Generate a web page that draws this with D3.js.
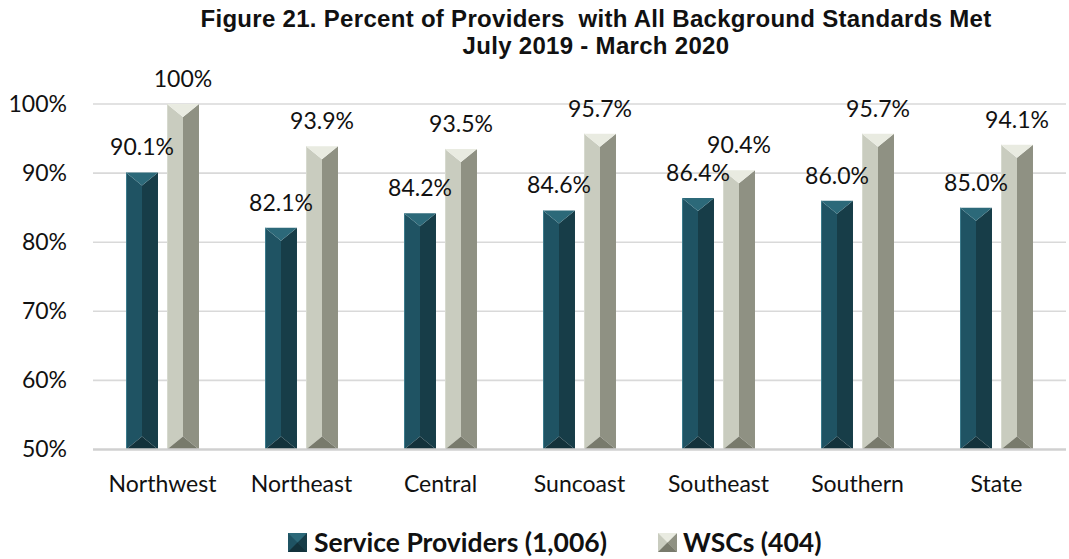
<!DOCTYPE html>
<html>
<head>
<meta charset="utf-8">
<script src="https://cdn.jsdelivr.net/npm/d3@7"></script>
<style>
  html, body { margin: 0; padding: 0; background: #fff; }
  svg { display: block; }
</style>
</head>
<body>
<svg id="chart" width="1069" height="559"></svg>
<script>
// Regions and percentages of providers meeting all background standards
const regions = ["Northwest", "Northeast", "Central", "Suncoast", "Southeast", "Southern", "State"];
const serviceProviders = [90.1, 82.1, 84.2, 84.6, 86.4, 86.0, 85.0];
const wscs = [100, 93.9, 93.5, 95.7, 90.4, 95.7, 94.1];
const seriesNames = ["Service Providers (1,006)", "WSCs (404)"];
const yTicks = [50, 60, 70, 80, 90, 100];
const titleLines = ["Figure 21. Percent of Providers  with All Background Standards Met",
                    "July 2019 - March 2020"];

// Bevelled face colours: left, right, top, bottom
const palettes = [
  { left: "#1f5363", right: "#173d48", top: "#2c6979", bottom: "#13323b", edge: "#4f93a5" },
  { left: "#c9ccbf", right: "#8f9183", top: "#e9ebe1", bottom: "#787a6c", edge: "#e0e2d8" }
];

const svg = d3.select("#chart");
const margin = { left: 93, right: 1066, top: 104, bottom: 449.5 };
const labelFont = "Lato, 'Open Sans', sans-serif";
const pts = arr => arr.map(p => p.join(",")).join(" ");

const y = d3.scaleLinear().domain([50, 100]).range([margin.bottom, margin.top]);
const x0 = d3.scaleBand().domain(regions).range([margin.left, margin.right])
  .paddingInner(0.475).paddingOuter(0.2375);
const x1 = d3.scaleBand().domain([0, 1]).range([0, x0.bandwidth()]).paddingInner(0.22);

// Title
svg.append("g").selectAll("text").data(titleLines).join("text")
  .attr("x", 596).attr("y", (d, i) => 27 + i * 27)
  .attr("text-anchor", "middle")
  .style("white-space", "pre")
  .style("font-family", "'Liberation Sans', Arial, sans-serif")
  .style("font-weight", "bold")
  .style("font-size", "24px")
  .style("letter-spacing", "0.3px")
  .style("fill", "#111")
  .text(d => d);

// Gridlines
svg.append("g").selectAll("line").data(yTicks.filter(t => t > 50)).join("line")
  .attr("x1", margin.left).attr("x2", margin.right)
  .attr("y1", d => y(d)).attr("y2", d => y(d))
  .attr("stroke", "#d9d9d9").attr("stroke-width", 1.6);

// Y axis labels
const yAxis = d3.axisLeft(y).tickValues(yTicks).tickFormat(d => d + "%").tickSize(0).tickPadding(26);
const yg = svg.append("g").attr("transform", `translate(${margin.left},0)`).call(yAxis);
yg.select(".domain").remove();
yg.selectAll("text")
  .style("font-family", labelFont).style("font-size", "23px").style("fill", "#111");

// Bars with bevelled faces
const series = [serviceProviders, wscs];
const bars = svg.append("g");
regions.forEach((r, i) => {
  series.forEach((vals, s) => {
    const v = vals[i];
    const bx = x0(r) + x1(s);
    const w = x1.bandwidth();
    const top = y(v);
    const bot = y(50);
    const mid = bx + w / 2;
    const bev = Math.min(13, (bot - top) / 2);
    const pal = palettes[s];
    const g = bars.append("g");
    g.append("polygon").attr("points", pts([[bx, top], [mid, top + bev], [mid, bot - bev], [bx, bot]]))
      .attr("fill", pal.left);
    g.append("polygon").attr("points", pts([[bx + w, top], [mid, top + bev], [mid, bot - bev], [bx + w, bot]]))
      .attr("fill", pal.right);
    g.append("polygon").attr("points", pts([[bx, top], [bx + w, top], [mid, top + bev]]))
      .attr("fill", pal.top);
    g.append("polygon").attr("points", pts([[bx, bot], [bx + w, bot], [mid, bot - bev]]))
      .attr("fill", pal.bottom);
    g.append("line").attr("x1", bx + 0.5).attr("x2", bx + 0.5)
      .attr("y1", top).attr("y2", bot)
      .attr("stroke", pal.edge).attr("stroke-width", 1).attr("opacity", 0.6);
    // value label
    svg.append("text")
      .attr("x", mid).attr("y", top - 17)
      .attr("text-anchor", "middle")
      .style("font-family", labelFont).style("font-size", "23px").style("fill", "#111")
      .text(v === 100 ? "100%" : v.toFixed(1) + "%");
  });
});

// X axis baseline and category labels
svg.append("line")
  .attr("x1", margin.left).attr("x2", margin.right)
  .attr("y1", y(50)).attr("y2", y(50))
  .attr("stroke", "#d0d0d0").attr("stroke-width", 2.5);
const xAxis = d3.axisBottom(x0).tickSize(0).tickPadding(26);
const xg = svg.append("g").attr("transform", `translate(0,${y(50)})`).call(xAxis);
xg.select(".domain").remove();
xg.selectAll("text")
  .style("font-family", labelFont).style("font-size", "23px").style("fill", "#111");

// Legend
const legendItems = [
  { name: seriesNames[0], sx: 288, tx: 314 },
  { name: seriesNames[1], sx: 658, tx: 683 }
];
const lg = svg.append("g");
legendItems.forEach((it, s) => {
  const pal = palettes[s];
  const sy = 533, sz = 19, m = it.sx + sz / 2;
  lg.append("polygon").attr("points", pts([[it.sx, sy], [it.sx + sz, sy], [it.sx + sz, sy + sz], [it.sx, sy + sz]])).attr("fill", pal.left);
  lg.append("polygon").attr("points", pts([[it.sx + sz, sy], [m, sy + sz / 2], [it.sx + sz, sy + sz]])).attr("fill", pal.right);
  lg.append("polygon").attr("points", pts([[it.sx, sy], [it.sx + sz, sy], [m, sy + sz / 2]])).attr("fill", pal.top);
  lg.append("polygon").attr("points", pts([[it.sx, sy + sz], [it.sx + sz, sy + sz], [m, sy + sz / 2]])).attr("fill", pal.bottom);
  lg.append("text").attr("x", it.tx).attr("y", 552)
    .style("font-family", labelFont).style("font-weight", "bold").style("font-size", "26.5px").style("fill", "#111")
    .text(it.name);
});
</script>
</body>
</html>
